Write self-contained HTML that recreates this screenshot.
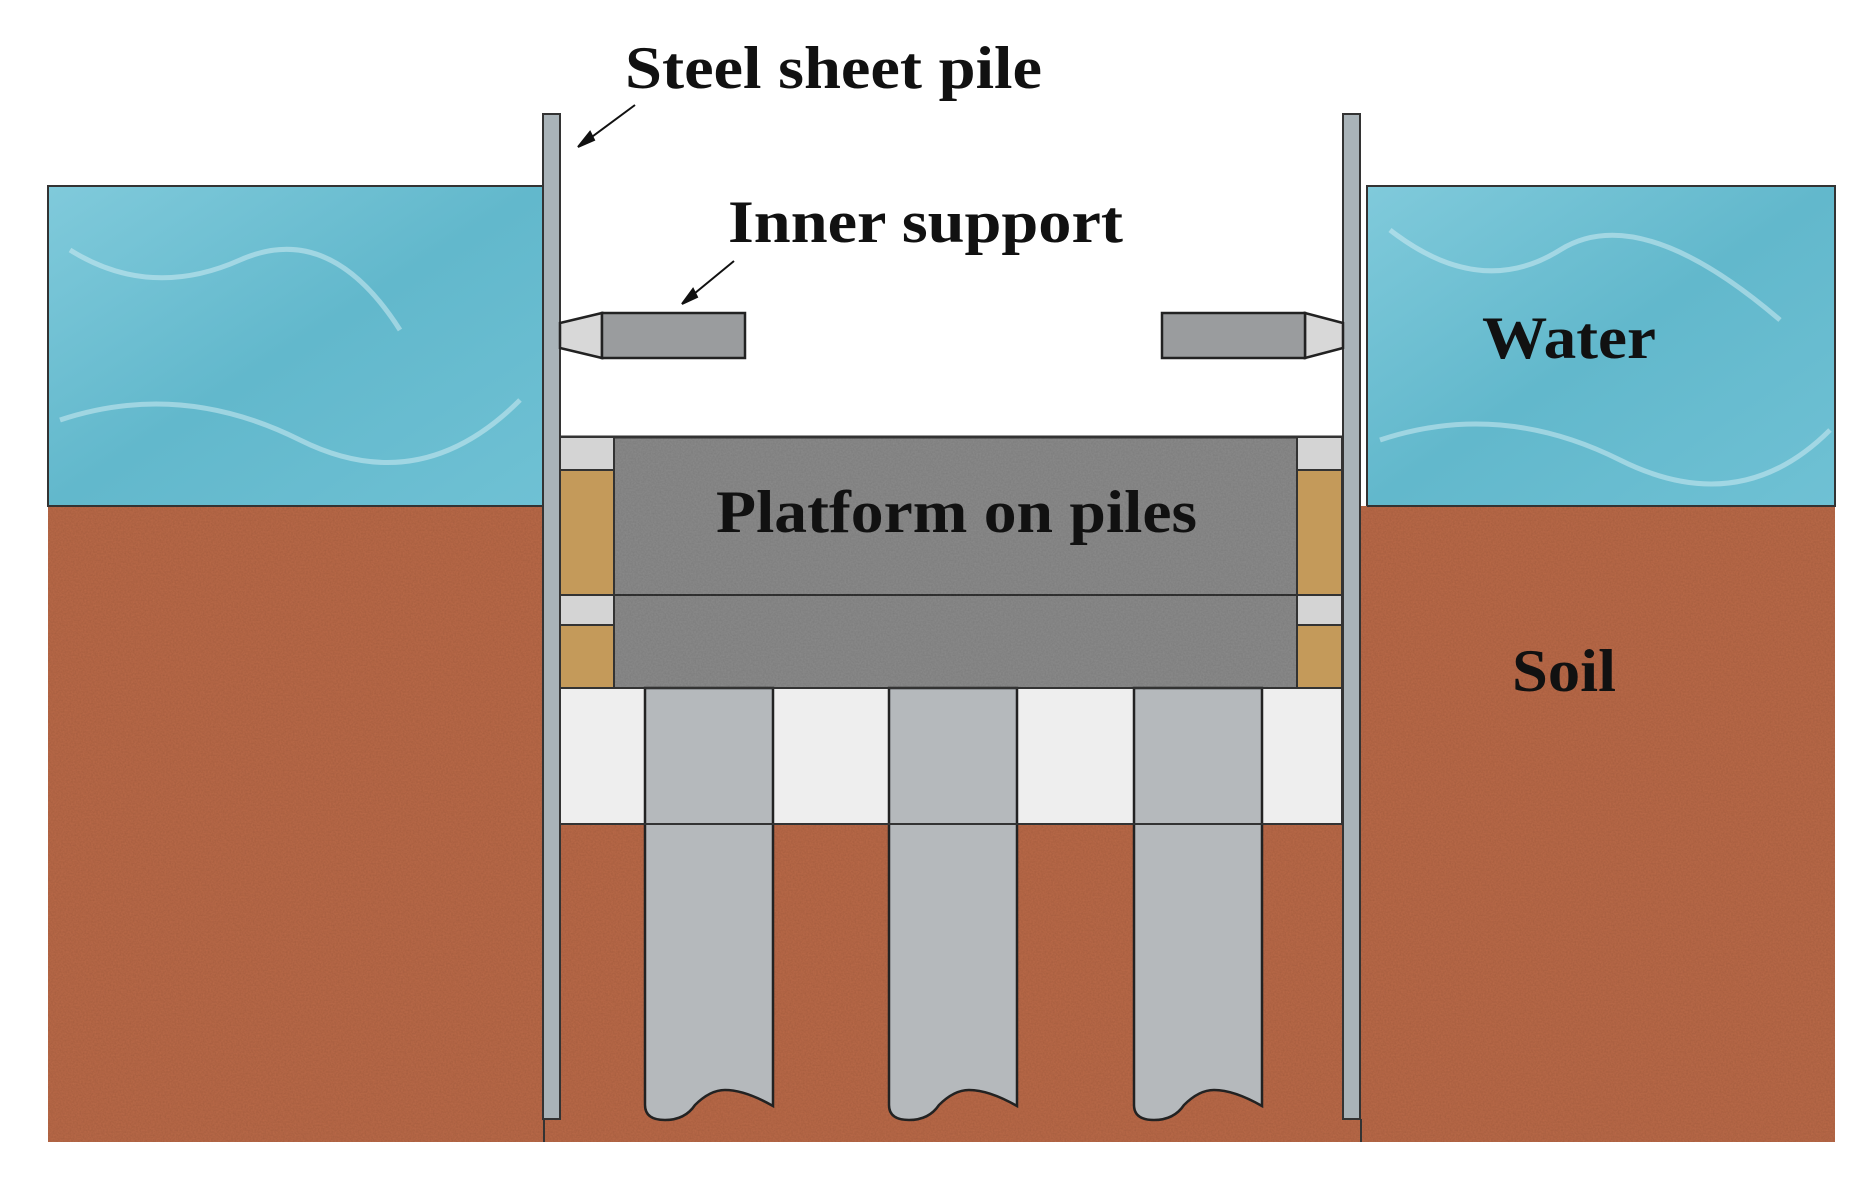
<!DOCTYPE html>
<html><head><style>html,body{margin:0;padding:0;background:#fff}svg{display:block}</style></head>
<body>
<svg width="1869" height="1184" viewBox="0 0 1869 1184" xmlns="http://www.w3.org/2000/svg">
<defs>
<filter id="n" x="0" y="0" width="100%" height="100%"><feTurbulence type="fractalNoise" baseFrequency="0.6" numOctaves="2" seed="3"/><feColorMatrix type="matrix" values="0 0 0 0 0  0 0 0 0 0  0 0 0 0 0  0 0 0 0.25 0"/><feComposite in2="SourceGraphic" operator="in"/><feBlend in="SourceGraphic" mode="multiply"/></filter>
<linearGradient id="w" x1="0" y1="0" x2="1" y2="1"><stop offset="0" stop-color="#80cadb"/><stop offset="0.5" stop-color="#62b8cc"/><stop offset="1" stop-color="#6fc1d4"/></linearGradient>
</defs>
<rect x="48" y="186" width="496" height="320" fill="url(#w)" stroke="#333" stroke-width="2"/>
<rect x="1367" y="186" width="468" height="320" fill="url(#w)" stroke="#333" stroke-width="2"/>
<g stroke="#d8f0f5" stroke-width="5" fill="none" opacity="0.5">
<path d="M70 250 Q150 300 240 260 T400 330"/><path d="M60 420 Q180 380 300 440 T520 400"/><path d="M1390 230 Q1480 300 1560 250 T1780 320"/><path d="M1380 440 Q1500 400 1620 460 T1830 430"/>
</g>
<rect x="48" y="506" width="1787" height="636" fill="#bb6a48" filter="url(#n)"/>
<line x1="48" y1="506" x2="544" y2="506" stroke="#333" stroke-width="2"/>
<line x1="1367" y1="506" x2="1835" y2="506" stroke="#333" stroke-width="2"/>
<rect x="560" y="186" width="782" height="251" fill="#fff"/>
<rect x="614" y="437" width="683" height="158" fill="#8c8c8c" stroke="#333" stroke-width="2" filter="url(#n)"/>
<rect x="614" y="595" width="683" height="93" fill="#8c8c8c" stroke="#333" stroke-width="2" filter="url(#n)"/>
<line x1="560" y1="437" x2="1342" y2="437" stroke="#333" stroke-width="3"/>
<g stroke="#333" stroke-width="2">
<rect x="560" y="437" width="54" height="33" fill="#d4d4d4"/><rect x="560" y="470" width="54" height="125" fill="#c49a5a"/>
<rect x="560" y="595" width="54" height="30" fill="#d4d4d4"/><rect x="560" y="625" width="54" height="63" fill="#c49a5a"/>
<rect x="1297" y="437" width="45" height="33" fill="#d4d4d4"/><rect x="1297" y="470" width="45" height="125" fill="#c49a5a"/>
<rect x="1297" y="595" width="45" height="30" fill="#d4d4d4"/><rect x="1297" y="625" width="45" height="63" fill="#c49a5a"/>
<rect x="560" y="688" width="782" height="136" fill="#eeeeee"/>
</g>
<g fill="#b5b9bc" stroke="#222" stroke-width="2.5">
<path d="M645 688 V1105 Q645 1120 665 1120 Q685 1120 695 1105 Q710 1090 725 1090 Q745 1090 773 1106 V688 Z"/>
<path d="M889 688 V1105 Q889 1120 909 1120 Q929 1120 939 1105 Q954 1090 969 1090 Q989 1090 1017 1106 V688 Z"/>
<path d="M1134 688 V1105 Q1134 1120 1154 1120 Q1174 1120 1184 1105 Q1199 1090 1214 1090 Q1234 1090 1262 1106 V688 Z"/>
</g>
<g stroke="#333" stroke-width="2" fill="none"><line x1="560" y1="824" x2="1342" y2="824"/><line x1="560" y1="688" x2="1342" y2="688"/></g>
<rect x="543" y="114" width="17" height="1005" fill="#a9b3b8" stroke="#333" stroke-width="2"/>
<rect x="1343" y="114" width="17" height="1005" fill="#a9b3b8" stroke="#333" stroke-width="2"/>
<line x1="544" y1="1119" x2="544" y2="1142" stroke="#333" stroke-width="2"/>
<line x1="1361" y1="1119" x2="1361" y2="1142" stroke="#333" stroke-width="2"/>
<g stroke="#222" stroke-width="2.5">
<path d="M560 323 L602 313 V358 L560 348 Z" fill="#d8d8d8"/>
<rect x="602" y="313" width="143" height="45" fill="#9a9c9e"/>
<path d="M1343 323 L1305 313 V358 L1343 348 Z" fill="#d8d8d8"/>
<rect x="1162" y="313" width="143" height="45" fill="#9a9c9e"/>
</g>
<g stroke="#111" stroke-width="2" fill="#111">
<line x1="635" y1="105" x2="585" y2="142"/><path d="M578 147 L590 132 L594 140 Z"/>
<line x1="734" y1="261" x2="689" y2="298"/><path d="M682 304 L693 289 L697 297 Z"/>
</g>
<g font-family="Liberation Serif, serif" font-weight="bold" fill="#111">
<text x="625" y="88" font-size="60" textLength="417" lengthAdjust="spacingAndGlyphs">Steel sheet pile</text>
<text x="728" y="242" font-size="60" textLength="395" lengthAdjust="spacingAndGlyphs">Inner support</text>
<text x="1482" y="358" font-size="60" textLength="174" lengthAdjust="spacingAndGlyphs">Water</text>
<text x="716" y="532" font-size="60" textLength="481" lengthAdjust="spacingAndGlyphs">Platform on piles</text>
<text x="1512" y="691" font-size="60" textLength="104" lengthAdjust="spacingAndGlyphs">Soil</text>
</g>
</svg>
</body></html>
